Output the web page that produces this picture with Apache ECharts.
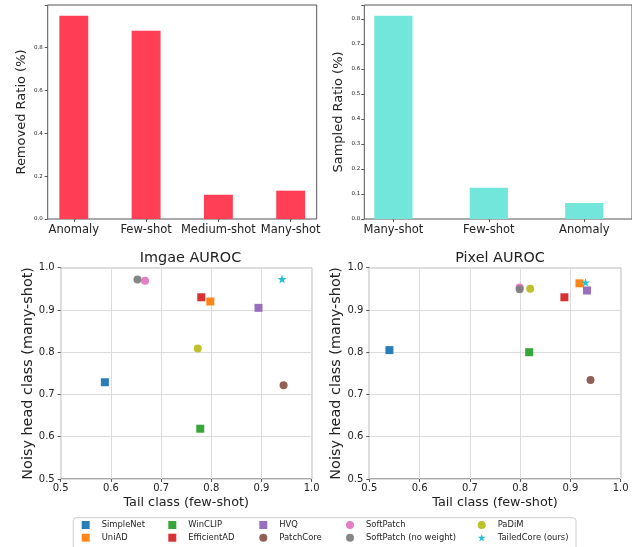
<!DOCTYPE html>
<html>
<head>
<meta charset="utf-8">
<script src="https://cdn.jsdelivr.net/npm/echarts@6/dist/echarts.min.js"></script>
<style>
html, body { margin: 0; padding: 0; background: #fff; }
#main { width: 632px; height: 547px; }
</style>
</head>
<body>
<div id="main"></div>
<script>
//上左：移除比例
var removedCats = ['Anomaly', 'Few-shot', 'Medium-shot', 'Many-shot'];
var removedVals = [0.947, 0.877, 0.113, 0.132];
//上右：采样比例
var sampledCats = ['Many-shot', 'Few-shot', 'Anomaly'];
var sampledVals = [0.813, 0.125, 0.064];

//方法名
var methods = ['SimpleNet', 'UniAD', 'WinCLIP', 'EfficientAD', 'HVQ', 'PatchCore',
	'SoftPatch', 'SoftPatch (no weight)', 'PaDiM', 'TailedCore (ours)'];
var methodColors = ['#1f77b4', '#ff7f0e', '#2ca02c', '#d62728', '#9467bd', '#8c564b',
	'#e377c2', '#7f7f7f', '#bcbd22', '#17becf'];
var methodSymbols = ['rect', 'rect', 'rect', 'rect', 'rect', 'circle',
	'circle', 'circle', 'circle', 'star'];

//Image AUROC [tail, head]
var imageTail = [0.588, 0.798, 0.778, 0.780, 0.894, 0.944, 0.668, 0.653, 0.773, 0.941];
var imageHead = [0.729, 0.920, 0.619, 0.930, 0.905, 0.722, 0.969, 0.972, 0.809, 0.973];
//Pixel AUROC
var pixelTail = [0.540, 0.918, 0.818, 0.888, 0.933, 0.940, 0.799, 0.799, 0.820, 0.930];
var pixelHead = [0.805, 0.963, 0.800, 0.930, 0.946, 0.734, 0.953, 0.949, 0.950, 0.965];

var ticks = [0.5, 0.6, 0.7, 0.8, 0.9, 1.0];

var font = 'DejaVu Sans';
var txt = '#222';
var frame = '#555';
var starPath = 'path://M50,0L61.8,35.4L100,35.4L69.1,57.3L80.9,92.7L50,70.8L19.1,92.7L30.9,57.3L0,35.4L38.2,35.4Z';

var chart = echarts.init(document.getElementById('main'));

var symbolOf = function(i) {
	return methodSymbols[i] == 'star' ? starPath : methodSymbols[i];
};

//只显示整步长的刻度标签
var stepLabel = function(step) {
	return function(v) {
		var k = v / step;
		if(Math.abs(k - Math.round(k)) > 1e-6) return '';
		return v.toFixed(1);
	};
};

var frameGrid = function(l, t, w, h) {
	return { left: l, top: t, width: w, height: h, show: true, borderColor: frame, borderWidth: 1, backgroundColor: 'transparent' };
};

var scatterAxis = function(idx, name, gap, isY) {
	return {
		gridIndex: idx,
		type: 'value',
		min: ticks[0],
		max: ticks[ticks.length - 1],
		interval: 0.1,
		name: name,
		nameLocation: 'middle',
		nameGap: gap,
		nameRotate: isY ? 90 : 0,
		nameTextStyle: { fontFamily: font, fontSize: isY ? 14.4 : 12.8, color: txt },
		axisLine: { show: false },
		axisTick: { show: true, length: 3, lineStyle: { color: frame } },
		axisLabel: { fontFamily: font, fontSize: 10, color: txt, margin: isY ? 6 : 4, formatter: stepLabel(0.1) },
		splitLine: { show: true, lineStyle: { color: '#dcdcdc', width: 1 } }
	};
};

var series = [{
	type: 'bar',
	xAxisIndex: 1,
	yAxisIndex: 1,
	data: removedVals,
	barWidth: '40%',
	itemStyle: { color: '#ff3f56' }
}, {
	type: 'bar',
	xAxisIndex: 3,
	yAxisIndex: 3,
	data: sampledVals,
	barWidth: '40%',
	itemStyle: { color: '#72e6db' }
}];

for(var i = 0; i < methods.length; i++) {
	var sz = methodSymbols[i] == 'star' ? 9 : 8;
	series.push({
		type: 'scatter', name: methods[i], xAxisIndex: 4, yAxisIndex: 4,
		symbol: symbolOf(i), symbolSize: sz,
		itemStyle: { color: methodColors[i], opacity: 0.95 },
		data: [[imageTail[i], imageHead[i]]]
	});
	series.push({
		type: 'scatter', name: methods[i], xAxisIndex: 5, yAxisIndex: 5,
		symbol: symbolOf(i), symbolSize: sz,
		itemStyle: { color: methodColors[i], opacity: 0.95 },
		data: [[pixelTail[i], pixelHead[i]]]
	});
}

//图例：5 列 x 2 行，每项单独放置
var legendCols = [81.7, 168.3, 259.3, 346, 477.7];
var legendRows = [521, 533.7];
var legends = [];
for(var m = 0; m < methods.length; m++) {
	legends.push({
		left: legendCols[Math.floor(m / 2)],
		top: legendRows[m % 2],
		padding: 0,
		itemWidth: 8,
		itemHeight: 8,
		selectedMode: false,
		data: [{ name: methods[m], icon: symbolOf(m) }],
		textStyle: { fontFamily: font, fontSize: 8.4, color: txt, padding: [0, 0, 0, 7] }
	});
}

var option = {
	animation: false,
	title: [{
		text: 'Imgae AUROC', left: 185.5, top: 246, textAlign: 'center',
		textStyle: { fontFamily: font, fontSize: 14.4, fontWeight: 'normal', color: txt }
	}, {
		text: 'Pixel AUROC', left: 495, top: 246, textAlign: 'center',
		textStyle: { fontFamily: font, fontSize: 14.4, fontWeight: 'normal', color: txt }
	}],
	legend: legends,
	grid: [
		frameGrid(47.7, 5, 269, 214),
		{ left: 37.65, top: 5, width: 289.2, height: 214 },
		frameGrid(364.3, 5, 269.9, 214),
		{ left: 345.65, top: 5, width: 306.9, height: 214 },
		frameGrid(60.7, 267.7, 251, 211.3),
		frameGrid(369.3, 267.7, 251.4, 211.3)
	],
	xAxis: [
		{ gridIndex: 0, type: 'value', min: 0, max: 1, show: false },
		{
			gridIndex: 1, type: 'category', data: removedCats,
			axisLine: { show: false },
			axisTick: { show: true, alignWithLabel: true, length: 3, lineStyle: { color: frame } },
			axisLabel: { fontFamily: font, fontSize: 11.5, color: txt, margin: 5, interval: 0 }
		},
		{ gridIndex: 2, type: 'value', min: 0, max: 1, show: false },
		{
			gridIndex: 3, type: 'category', data: sampledCats,
			axisLine: { show: false },
			axisTick: { show: true, alignWithLabel: true, length: 3, lineStyle: { color: frame } },
			axisLabel: { fontFamily: font, fontSize: 11.5, color: txt, margin: 5, interval: 0 }
		},
		scatterAxis(4, 'Tail class (few-shot)', 17, false),
		scatterAxis(5, 'Tail class (few-shot)', 17, false)
	],
	yAxis: [
		{
			gridIndex: 0, type: 'value', min: 0, max: 0.9975, interval: 0.2,
			name: 'Removed Ratio (%)', nameLocation: 'middle', nameGap: 19.5, nameRotate: 90,
			nameTextStyle: { fontFamily: font, fontSize: 13, color: txt },
			axisLine: { show: false },
			axisTick: { show: true, length: 3, lineStyle: { color: frame } },
			axisLabel: { fontFamily: font, fontSize: 5.5, color: txt, margin: 5, formatter: stepLabel(0.2) },
			splitLine: { show: false }
		},
		{ gridIndex: 1, type: 'value', min: 0, max: 0.9975, show: false },
		{
			gridIndex: 2, type: 'value', min: 0, max: 0.856, interval: 0.1,
			name: 'Sampled Ratio (%)', nameLocation: 'middle', nameGap: 18.8, nameRotate: 90,
			nameTextStyle: { fontFamily: font, fontSize: 13, color: txt },
			axisLine: { show: false },
			axisTick: { show: true, length: 3, lineStyle: { color: frame } },
			axisLabel: { fontFamily: font, fontSize: 5.5, color: txt, margin: 4, formatter: stepLabel(0.1) },
			splitLine: { show: false }
		},
		{ gridIndex: 3, type: 'value', min: 0, max: 0.856, show: false },
		scatterAxis(4, 'Noisy head class (many-shot)', 25, true),
		scatterAxis(5, 'Noisy head class (many-shot)', 25, true)
	],
	graphic: [{
		type: 'rect',
		shape: { x: 73.3, y: 517.7, width: 502.7, height: 40, r: 3 },
		style: { fill: 'none', stroke: '#cccccc', lineWidth: 1 },
		z: -1
	}],
	series: series
};

chart.setOption(option);
</script>
</body>
</html>
